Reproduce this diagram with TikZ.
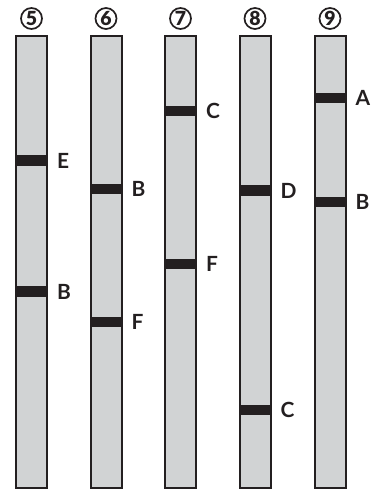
\documentclass[tikz,border=0pt]{standalone}
\usepackage{fontspec}
\setmainfont{Lato}
\definecolor{barfill}{HTML}{D1D3D4}
\definecolor{ink}{HTML}{231F20}
\begin{document}
\begin{tikzpicture}[x=1bp,y=-1bp,
  lane/.style={draw=ink,line width=2bp,fill=barfill,minimum width=31bp,minimum height=452bp,inner sep=0pt,outer sep=0pt},
  band/.style={fill=ink,minimum width=31bp,minimum height=10.5bp,inner sep=0pt,outer sep=0pt},
  lbl/.style={anchor=west,inner sep=0pt,font=\bfseries\fontsize{21}{21}\selectfont,text=ink},
  num/.style={circle,draw=ink,line width=1.7bp,minimum size=21bp,inner sep=0pt,font=\fontspec{Lato Black}\fontsize{19.5}{19.5}\selectfont,text=ink}]
\useasboundingbox (0,0) rectangle (378,491);
\foreach \n/\x in {5/31.5,6/106,7/180.5,8/255,9/330}{
  \node[lane] (lane\n) at (\x,262) {};
  \node[num] (n\n) at (\x,18.5) {\n};
}
% bands
\node[band] (b5E) at (31.5,160.5) {};
\node[band] (b5B) at (31.5,291.5) {};
\node[band] (b6B) at (106,189) {};
\node[band] (b6F) at (106,322) {};
\node[band] (b7C) at (180.5,111) {};
\node[band] (b7F) at (180.5,264) {};
\node[band] (b8D) at (255,190.5) {};
\node[band] (b8C) at (255,410) {};
\node[band] (b9A) at (330,98) {};
\node[band] (b9B) at (330,202) {};
% labels
\node[lbl] (l5E) at ([xshift=10bp]b5E.east) {E};
\node[lbl] (l5B) at ([xshift=10bp]b5B.east) {B};
\node[lbl] (l6B) at ([xshift=10bp]b6B.east) {B};
\node[lbl] (l6F) at ([xshift=10bp]b6F.east) {F};
\node[lbl] (l7C) at ([xshift=10bp]b7C.east) {C};
\node[lbl] (l7F) at ([xshift=10bp]b7F.east) {F};
\node[lbl] (l8D) at ([xshift=10bp]b8D.east) {D};
\node[lbl] (l8C) at ([xshift=10bp]b8C.east) {C};
\node[lbl] (l9A) at ([xshift=10bp]b9A.east) {A};
\node[lbl] (l9B) at ([xshift=10bp]b9B.east) {B};
\end{tikzpicture}
\end{document}
